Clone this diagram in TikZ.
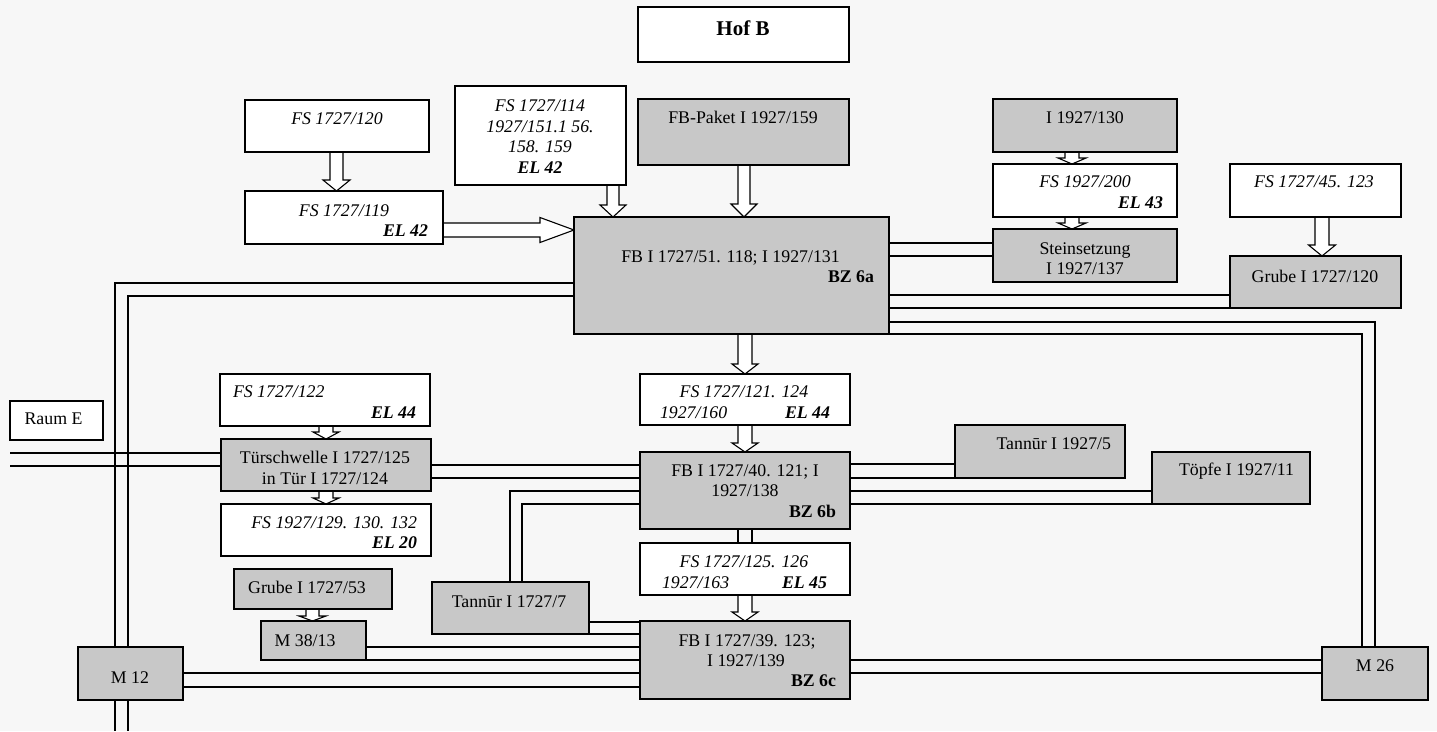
\documentclass[tikz,border=0pt]{standalone}
\usepackage{fontspec}
\setmainfont{Liberation Serif}
\usetikzlibrary{calc}
\pgfdeclarelayer{paper}
\pgfdeclarelayer{links}
\pgfsetlayers{paper,links,main}
\definecolor{boxgray}{RGB}{200,200,200}
\definecolor{paperc}{RGB}{247,247,247}
\newcommand\fsz{\fontsize{17.8}{20.7}\selectfont}
\newcommand\fszB{\fontsize{21}{24}\selectfont}
% box: name, x1, y1, x2, y2, fill
\newcommand\boxat[6]{\node[boxst, fill=#6, minimum width={#4pt-#2pt}, minimum height={#5pt-#3pt}] (#1) at ({(#2+#4)/2},{(#3+#5)/2}) {};}
% hollow arrow down: from, to, x centre, shaft half, head half, head length
\newcommand\hollowdown[6]{\draw[hollow] let \p1=(#1.south), \p2=(#2.north) in
  ({#3pt-#4pt},\y1) -- ({#3pt-#4pt},{\y2+#6pt}) -- ({#3pt-#5pt},{\y2+#6pt}) -- (#3pt,\y2)
  -- ({#3pt+#5pt},{\y2+#6pt}) -- ({#3pt+#4pt},{\y2+#6pt}) -- ({#3pt+#4pt},\y1);}
% hollow arrow right: from, to, y centre, shaft half, head half, head length
\newcommand\hollowright[6]{\draw[hollow] let \p1=(#1.east), \p2=(#2.west) in
  (\x1,{-#3pt+#4pt}) -- ({\x2-#6pt},{-#3pt+#4pt}) -- ({\x2-#6pt},{-#3pt+#5pt}) -- (\x2,-#3pt)
  -- ({\x2-#6pt},{-#3pt-#5pt}) -- ({\x2-#6pt},{-#3pt-#4pt}) -- (\x1,{-#3pt-#4pt});}
\begin{document}
\begin{tikzpicture}[x=1pt,y=-1pt,
  boxst/.style={draw=black, line width=1.2pt, inner sep=0pt, outer sep=0pt, rectangle},
  link/.style={draw=black, line width=1.1pt},
  hollow/.style={draw=black, fill=white, line width=1.1pt, line join=miter},
  t/.style={inner sep=0pt, outer sep=0pt, font=\fsz, text=black},
  ti/.style={t, font=\fsz\itshape},
  tb/.style={t, font=\fsz\bfseries},
  tbi/.style={t, font=\fsz\bfseries\itshape}]
\useasboundingbox (0,0) rectangle (1437,731);
\begin{pgfonlayer}{paper}
\fill[paperc] (0,0) rectangle (1437,731);
\end{pgfonlayer}

% ---------- boxes ----------
\boxat{hof}{638}{7}{849}{62}{white}
\boxat{fsA}{245}{100}{429}{152}{white}
\boxat{fsB}{245}{191}{443}{244}{white}
\boxat{fsC}{455}{86}{626}{185}{white}
\boxat{pak}{638}{99}{849}{165}{boxgray}
\boxat{fba}{574}{217}{889}{334}{boxgray}
\boxat{ione}{993}{99}{1177}{152}{boxgray}
\boxat{fsD}{993}{164}{1177}{217}{white}
\boxat{stein}{993}{229}{1177}{282}{boxgray}
\boxat{fsE}{1230}{164}{1401}{217}{white}
\boxat{grA}{1230}{256}{1401}{308}{boxgray}
\boxat{raum}{10}{401}{103}{440}{white}
\boxat{fsF}{220}{374}{430}{426}{white}
\boxat{tuer}{221}{439}{431}{491}{boxgray}
\boxat{fsG}{221}{504}{431}{556}{white}
\boxat{grB}{234}{569}{392}{609}{boxgray}
\boxat{mA}{261}{621}{366}{660}{boxgray}
\boxat{mB}{78}{647}{183}{700}{boxgray}
\boxat{fsH}{640}{374}{850}{425}{white}
\boxat{fbb}{640}{452}{850}{529}{boxgray}
\boxat{fsI}{640}{543}{850}{595}{white}
\boxat{tanA}{432}{582}{589}{634}{boxgray}
\boxat{fbc}{640}{621}{850}{699}{boxgray}
\boxat{tanB}{955}{425}{1125}{478}{boxgray}
\boxat{toepfe}{1152}{452}{1310}{504}{boxgray}
\boxat{mC}{1322}{647}{1428}{700}{boxgray}

% ---------- texts ----------
\node[t, font=\fszB\bfseries, anchor=base] (hofT) at (743,35) {Hof B};
\node[ti, anchor=base] (fsAT) at (337,124) {FS 1727/120};
\node[ti, anchor=base] (fsBT) at (344,216) {FS 1727/119};
\node[tbi, anchor=base east] (fsBE) at (428,236) {EL 42};
\node[ti, anchor=base] (fsCT1) at (540,111) {FS 1727/114};
\node[ti, anchor=base] (fsCT2) at (540,132) {1927/151.1 56.};
\node[ti, anchor=base] (fsCT3) at (540,152) {158. 159};
\node[tbi, anchor=base] (fsCE) at (540,173) {EL 42};
\node[t, anchor=base] (pakT) at (743,123) {FB-Paket I 1927/159};
\node[t, anchor=base] (fbaT) at (730.5,262) {FB I 1727/51. 118; I 1927/131};
\node[tb, anchor=base east] (fbaE) at (874,282) {BZ 6a};
\node[t, anchor=base] (ioneT) at (1085,123) {I 1927/130};
\node[ti, anchor=base] (fsDT) at (1085,187) {FS 1927/200};
\node[tbi, anchor=base east] (fsDE) at (1163,208) {EL 43};
\node[t, anchor=base] (steinT1) at (1085,254) {Steinsetzung};
\node[t, anchor=base] (steinT2) at (1085,274) {I 1927/137};
\node[ti, anchor=base] (fsET) at (1314,187) {FS 1727/45. 123};
\node[t, anchor=base] (grAT) at (1315,282) {Grube I 1727/120};
\node[t, anchor=base] (raumT) at (53.5,424) {Raum E};
\node[ti, anchor=base west] (fsFT) at (233,397) {FS 1727/122};
\node[tbi, anchor=base east] (fsFE) at (416,418) {EL 44};
\node[t, anchor=base] (tuerT1) at (325,463) {Türschwelle I 1727/125};
\node[t, anchor=base] (tuerT2) at (325,484) {in Tür I 1727/124};
\node[ti, anchor=base east] (fsGT) at (417,528) {FS 1927/129. 130. 132};
\node[tbi, anchor=base east] (fsGE) at (417,548) {EL 20};
\node[t, anchor=base] (grBT) at (307,593) {Grube I 1727/53};
\node[t, anchor=base] (mAT) at (305,646) {M 38/13};
\node[t, anchor=base] (mBT) at (130,683) {M 12};
\node[ti, anchor=base] (fsHT1) at (744,397) {FS 1727/121. 124};
\node[ti, anchor=base west] (fsHT2) at (660,418) {1927/160};
\node[tbi, anchor=base east] (fsHE) at (830,418) {EL 44};
\node[t, anchor=base] (fbbT1) at (745,476) {FB I 1727/40. 121; I};
\node[t, anchor=base] (fbbT2) at (745,496) {1927/138};
\node[tb, anchor=base east] (fbbE) at (836,517) {BZ 6b};
\node[ti, anchor=base] (fsIT1) at (744,567) {FS 1727/125. 126};
\node[ti, anchor=base west] (fsIT2) at (662,588) {1927/163};
\node[tbi, anchor=base east] (fsIE) at (827,588) {EL 45};
\node[t, anchor=base] (tanAT) at (509,607) {Tannūr I 1727/7};
\node[t, anchor=base] (fbcT1) at (747,646) {FB I 1727/39. 123;};
\node[t, anchor=base] (fbcT2) at (746,666) {I 1927/139};
\node[tb, anchor=base east] (fbcE) at (836,686) {BZ 6c};
\node[t, anchor=base east] (tanBT) at (1111,449) {Tannūr I 1927/5};
\node[t, anchor=base east] (toepfeT) at (1294,475) {Töpfe I 1927/11};
\node[t, anchor=base] (mCT) at (1375,671) {M 26};

% ---------- free ends ----------
\coordinate (leftA) at (10,453);
\coordinate (leftB) at (10,466);
\coordinate (downA) at (115,731);
\coordinate (downB) at (128,731);

\begin{pgfonlayer}{links}
% hollow arrows
\hollowdown{fsA}{fsB}{336.5}{6.5}{13.5}{11}
\hollowdown{fsC}{fba}{613}{6}{13}{12}
\hollowdown{pak}{fba}{744}{6}{13}{13}
\hollowdown{fba}{fsH}{745}{7}{13}{10}
\hollowdown{fsH}{fbb}{745}{7}{13}{9}
\hollowdown{fsI}{fbc}{745}{7}{13}{9}
\hollowdown{ione}{fsD}{1072}{7}{14}{6}
\hollowdown{fsD}{stein}{1072}{7}{14}{6}
\hollowdown{fsE}{grA}{1322}{7}{13.5}{11}
\hollowdown{fsF}{tuer}{326}{7}{13}{7}
\hollowdown{tuer}{fsG}{326}{7}{13}{6}
\hollowdown{grB}{mA}{312.5}{6.5}{13.5}{5}
\hollowright{fsB}{fba}{230}{7}{12.5}{34}

% double connectors
\draw[link] (fba.west |- 0,283) -| (mB.north -| 115,0);
\draw[link] (fba.west |- 0,296) -| (mB.north -| 128,0);
\draw[link] (mB.south -| 115,0) -- (downA);
\draw[link] (mB.south -| 128,0) -- (downB);
\draw[link] (tuer.west |- 0,453) -- (leftA);
\draw[link] (tuer.west |- 0,466) -- (leftB);
\draw[link] (fba.east |- 0,243) -- (stein.west |- 0,243);
\draw[link] (fba.east |- 0,256) -- (stein.west |- 0,256);
\draw[link] (fba.east |- 0,295) -- (grA.west |- 0,295);
\draw[link] (fba.east |- 0,308) -- (grA.west |- 0,308);
\draw[link] (fba.east |- 0,322) -| (mC.north -| 1375,0);
\draw[link] (fba.east |- 0,334) -| (mC.north -| 1362,0);
\draw[link] (tuer.east |- 0,465) -- (fbb.west |- 0,465);
\draw[link] (tuer.east |- 0,478) -- (fbb.west |- 0,478);
\draw[link] (tanA.north -| 510,0) |- (fbb.west |- 0,491);
\draw[link] (tanA.north -| 522,0) |- (fbb.west |- 0,504);
\draw[link] (fbb.east |- 0,464) -- (tanB.west |- 0,464);
\draw[link] (fbb.east |- 0,478) -- (tanB.west |- 0,478);
\draw[link] (fbb.east |- 0,491) -- (toepfe.west |- 0,491);
\draw[link] (fbb.east |- 0,504) -- (toepfe.west |- 0,504);
\draw[link] (fbb.south -| 738,0) -- (fsI.north -| 738,0);
\draw[link] (fbb.south -| 752,0) -- (fsI.north -| 752,0);
\draw[link] (tanA.east |- 0,622) -- (fbc.west |- 0,622);
\draw[link] (tanA.east |- 0,634) -- (fbc.west |- 0,634);
\draw[link] (mA.east |- 0,647) -- (fbc.west |- 0,647);
\draw[link] (mA.east |- 0,660) -- (fbc.west |- 0,660);
\draw[link] (mB.east |- 0,673) -- (fbc.west |- 0,673);
\draw[link] (mB.east |- 0,687) -- (fbc.west |- 0,687);
\draw[link] (fbc.east |- 0,660) -- (mC.west |- 0,660);
\draw[link] (fbc.east |- 0,673) -- (mC.west |- 0,673);
\end{pgfonlayer}
\end{tikzpicture}
\end{document}
